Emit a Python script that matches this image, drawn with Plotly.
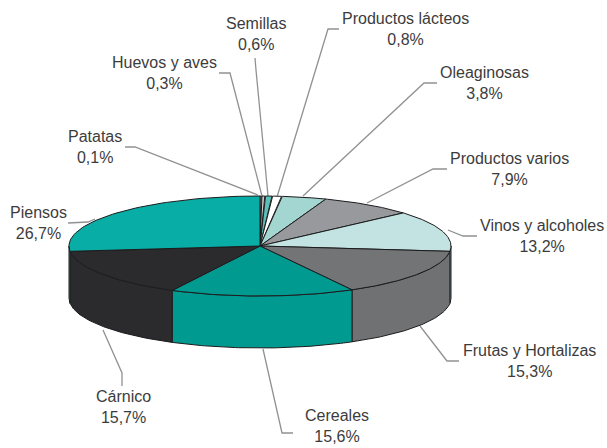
import numpy as np
import plotly.graph_objects as go

categories = ["Patatas", "Huevos y aves", "Semillas", "Productos lácteos", "Oleaginosas",
              "Productos varios", "Vinos y alcoholes", "Frutas y Hortalizas", "Cereales",
              "Cárnico", "Piensos"]
values = [0.1, 0.3, 0.6, 0.8, 3.8, 7.9, 13.2, 15.3, 15.6, 15.7, 26.7]
value_labels = ["0,1%", "0,3%", "0,6%", "0,8%", "3,8%", "7,9%", "13,2%", "15,3%", "15,6%", "15,7%", "26,7%"]
top_colors = ["#ffffff", "#c9cbcb", "#5cc0b8", "#ffffff", "#a3d6d0", "#98999c", "#c2e3e1",
              "#737476", "#009a90", "#2b2a2c", "#08aea6"]
side_colors = ["#ffffff", "#c9cbcb", "#5cc0b8", "#ffffff", "#a3d6d0", "#98999c", "#c2e3e1",
               "#707173", "#009a90", "#2b2a2c", "#08aea6"]
label_x = [95, 164, 256, 405, 484, 509, 542, 529, 337, 123, 38]
label_y = [147, 73, 34, 29, 83, 169, 236, 361, 425.5, 407, 223]
leader_x = [(125, 135, 258), (219, 230, 262), (255, 256, 268), (339, 328, 277), (437, 424, 303),
            (447, 433, 367), (477, 463, 448), (459, 447, 420), (293, 282, 263), (122, 122, 103), (68, 88, 95)]
leader_y = [(147, 147, 195), (73, 73, 196), (58, 70, 196), (29, 29, 197), (83, 83, 196),
            (169, 169, 203), (236, 236, 230), (361, 361, 326), (433, 433, 349), (386, 373, 330), (223, 222, 219)]

CX, CY, A, B, DEPTH = 260, 246, 191, 50, 52
scale = 360 / sum(values)


def rim(deg, dy=0):
    r = np.radians(deg)
    return CX + A * np.sin(r), CY - B * np.cos(r) + dy


fig = go.Figure()
edges = np.cumsum([0] + values) * scale

# leader lines sit behind the pie, so they stop cleanly at its rim
for lx, ly in zip(leader_x, leader_y):
    fig.add_trace(go.Scatter(x=list(lx), y=list(ly), mode="lines", line=dict(color="#8f9193", width=1.3),
                             hoverinfo="skip", showlegend=False))
# sides: only the front half of the drum (90 to 270 degrees clockwise from the top)
for i in range(len(values)):
    a0, a1 = max(edges[i], 90), min(edges[i + 1], 270)
    if a1 <= a0:
        continue
    t = np.linspace(a0, a1, 60)
    x1, y1 = rim(t)
    x2, y2 = rim(t[::-1], DEPTH)
    fig.add_trace(go.Scatter(x=np.r_[x1, x2, x1[0]], y=np.r_[y1, y2, y1[0]], mode="lines", fill="toself",
                             fillcolor=side_colors[i], line=dict(color="#1c1c1e", width=1),
                             hoverinfo="skip", showlegend=False))
# top faces
for i in range(len(values)):
    t = np.linspace(edges[i], edges[i + 1], 60)
    x1, y1 = rim(t)
    fig.add_trace(go.Scatter(x=np.r_[CX, x1, CX], y=np.r_[CY, y1, CY], mode="lines", fill="toself",
                             fillcolor=top_colors[i], line=dict(color="#1c1c1e", width=1),
                             name=categories[i], hoverinfo="name", showlegend=False))
# labels
for c, v, x, y in zip(categories, value_labels, label_x, label_y):
    fig.add_annotation(x=x, y=y, text=f"{c}<br>{v}", showarrow=False, xanchor="center", yanchor="middle",
                       font=dict(family="Liberation Sans", size=16, color="#3c3c3c"), align="center")

fig.update_xaxes(range=[0, 607], visible=False, fixedrange=True)
fig.update_yaxes(range=[448, 0], visible=False, fixedrange=True)
fig.update_layout(width=607, height=448, margin=dict(l=0, r=0, t=0, b=0),
                  paper_bgcolor="white", plot_bgcolor="white")
fig.write_html("out.html", post_script="document.body.style.margin='0';document.body.style.overflow='hidden';",
               config={"displayModeBar": False})
